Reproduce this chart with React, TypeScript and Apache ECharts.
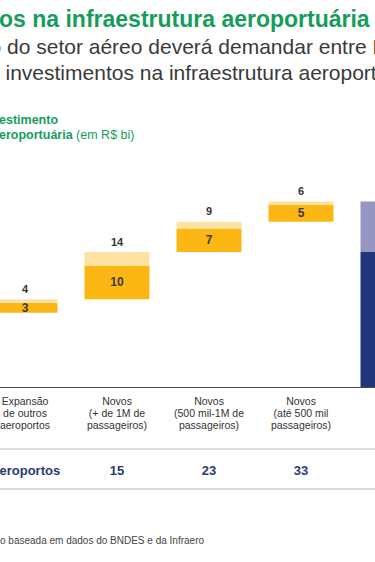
import React, { useEffect, useRef } from "react";
import * as echarts from "echarts";

// Categories visible in the (cropped) reference
const categories = [
  "Expansão\nde outros\naeroportos",
  "Novos\n(+ de 1M de\npassageiros)",
  "Novos\n(500 mil-1M de\npassageiros)",
  "Novos\n(até 500 mil\npassageiros)",
  "",
];
// Lower estimate (dark part) and upper estimate (top label), R$ bi
const minValues = [3, 10, 7, 5];
const maxValues = [4, 14, 9, 6];
// Contribution of the earlier step that is cut off at the left edge
const priorMin = 15;
const priorMax = 22;
// "Número de aeroportos" row
const airportCounts = ["", "15", "23", "33", ""];

const FONT = "'Liberation Sans', Arial, Helvetica, sans-serif";
const YELLOW = "#fdb714";
const PALE = "#fde2a4";
const NAVY = "#233579";
const LAVENDER = "#9597c2";
const GREEN = "#169d5b";
// the chart canvas starts this many px left of the page (the reference is a crop)
const SHIFT = 21;

export default function App() {
  const ref = useRef<HTMLDivElement>(null);
  useEffect(() => {
    if (!ref.current) return;
    const chart = echarts.init(ref.current, undefined, { renderer: "svg" });

    const bases: number[] = [];
    let acc = priorMax;
    for (let i = 0; i < maxValues.length; i++) {
      bases.push(acc);
      acc += maxValues[i];
    }
    const totalMin = priorMin + minValues.reduce((a, b) => a + b, 0);
    const totalMax = acc;

    const baseData = [...bases, 0];
    const darkData = [
      ...minValues.map((v) => ({ value: v, itemStyle: { color: YELLOW } })),
      { value: totalMin, itemStyle: { color: NAVY }, label: { show: false } },
    ];
    const lightData = [
      ...maxValues.map((v, i) => ({
        value: v - minValues[i],
        top: v,
        itemStyle: { color: PALE },
      })),
      {
        value: totalMax - totalMin,
        top: totalMax,
        itemStyle: { color: LAVENDER },
        label: { show: false },
      },
    ];

    chart.setOption({
      animation: false,
      grid: { left: 0, width: 460, top: 184.6, height: 202.4 },
      xAxis: [
        {
          type: "category",
          data: categories,
          axisLine: { show: true, lineStyle: { color: "#4a4a4a", width: 1 } },
          axisTick: { show: false },
          axisLabel: {
            interval: 0,
            margin: 8,
            fontFamily: FONT,
            fontSize: 10.5,
            lineHeight: 12,
            color: "#333",
          },
        },
        {
          type: "category",
          position: "bottom",
          offset: 77,
          data: airportCounts,
          axisLine: { show: false },
          axisTick: { show: false },
          axisLabel: {
            interval: 0,
            margin: 0,
            fontFamily: FONT,
            fontSize: 13,
            lineHeight: 13,
            fontWeight: "bold",
            color: "#2a3a73",
          },
        },
      ],
      yAxis: { type: "value", min: 0, max: 60, show: false, splitLine: { show: false } },
      series: [
        {
          type: "bar",
          stack: "w",
          barWidth: 65,
          data: baseData,
          itemStyle: { color: "transparent" },
          silent: true,
        },
        {
          type: "bar",
          stack: "w",
          barWidth: 65,
          data: darkData,
          label: {
            show: true,
            position: "inside",
            fontFamily: FONT,
            fontSize: 12,
            fontWeight: "bold",
            color: "#3a3a3a",
          },
        },
        {
          type: "bar",
          stack: "w",
          barWidth: 65,
          data: lightData,
          label: {
            show: true,
            position: "top",
            distance: 5,
            fontFamily: FONT,
            fontSize: 11,
            fontWeight: "bold",
            color: "#333",
            formatter: (p: any) => String(p.data.top),
          },
        },
      ],
      graphic: [
        {
          type: "text",
          style: {
            text: "os na infraestrutura aeroportuária",
            x: SHIFT - 1,
            y: 18.5,
            font: `bold 23px ${FONT}`,
            fill: GREEN,
            textVerticalAlign: "middle",
          },
        },
        {
          type: "text",
          style: {
            text: "o do setor aéreo deverá demandar entre R$",
            x: SHIFT - 10.5,
            y: 46.5,
            font: `21px ${FONT}`,
            fill: "#3a3a3a",
            textVerticalAlign: "middle",
          },
        },
        {
          type: "text",
          style: {
            text: "investimentos na infraestrutura aeroportuária",
            x: SHIFT + 5.5,
            y: 72.5,
            font: `21px ${FONT}`,
            fill: "#3a3a3a",
            textVerticalAlign: "middle",
          },
        },
        {
          type: "text",
          style: {
            text: "estimento",
            x: SHIFT - 1,
            y: 119.5,
            font: `bold 12.5px ${FONT}`,
            fill: GREEN,
            textVerticalAlign: "middle",
          },
        },
        {
          type: "text",
          style: {
            text: "{b|eroportuária}{n| (em R$ bi)}",
            x: SHIFT - 1,
            y: 135,
            fill: GREEN,
            textVerticalAlign: "middle",
            rich: {
              b: { fontFamily: FONT, fontSize: 12.5, fontWeight: "bold", fill: GREEN },
              n: { fontFamily: FONT, fontSize: 12.5, fill: GREEN },
            },
          },
        },
        {
          type: "line",
          shape: { x1: SHIFT, y1: 449, x2: SHIFT + 375, y2: 449 },
          style: { stroke: "#dedede", lineWidth: 2 },
        },
        {
          type: "text",
          style: {
            text: "eroportos",
            x: SHIFT - 0.5,
            y: 470.5,
            font: `bold 13px ${FONT}`,
            fill: "#2a3a73",
            textVerticalAlign: "middle",
          },
        },
        {
          type: "line",
          shape: { x1: SHIFT, y1: 489, x2: SHIFT + 375, y2: 489 },
          style: { stroke: "#dadada", lineWidth: 2 },
        },
        {
          type: "text",
          style: {
            text: "o baseada em dados do BNDES e da Infraero",
            x: SHIFT,
            y: 540.5,
            font: `10px ${FONT}`,
            fill: "#444",
            textVerticalAlign: "middle",
          },
        },
      ],
    });
    return () => chart.dispose();
  }, []);

  return (
    <div
      ref={ref}
      style={{ position: "fixed", left: -SHIFT, top: 0, width: 460, height: 562, background: "#fff" }}
    />
  );
}
